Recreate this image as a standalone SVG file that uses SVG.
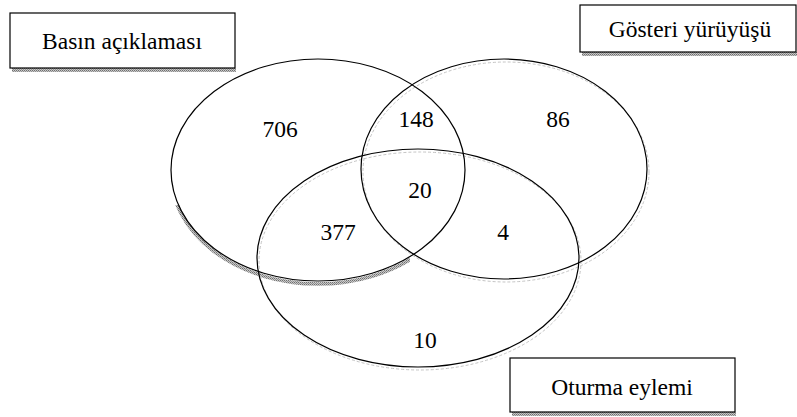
<svg xmlns="http://www.w3.org/2000/svg" width="797" height="417" viewBox="0 0 797 417">
<defs>
<pattern id="dots" width="2" height="2" patternUnits="userSpaceOnUse">
<rect width="2" height="2" fill="#c8c8c8"/>
<rect width="1" height="1" fill="#707070"/>
<rect x="1" y="1" width="1" height="1" fill="#909090"/>
</pattern>
<clipPath id="c1"><rect x="160" y="205" width="250" height="100"/></clipPath>
</defs>
<style>
.t{font-family:'Liberation Serif','Times New Roman',serif;font-size:23.5px;fill:#000;text-anchor:middle}
.set{fill:none;stroke:#000;stroke-width:1.2}
.sh{fill:none;stroke:#c4c4c4;stroke-width:1;stroke-dasharray:3 2}
.sh1{fill:none;stroke:url(#dots);stroke-width:3.5}
.box{fill:#fff;stroke:#000;stroke-width:1.2}
.bsh{fill:url(#dots)}
</style>
<rect width="797" height="417" fill="#fff"/>
<g id="shadows">
<ellipse class="sh1" cx="318" cy="173" rx="147" ry="111" clip-path="url(#c1)"/>
<ellipse class="sh" cx="506" cy="172" rx="143" ry="110"/>
<ellipse class="sh" cx="420" cy="261" rx="161" ry="109"/>
</g>
<g id="set-basin">
<ellipse class="set" cx="318" cy="170" rx="147" ry="111"/>
</g>
<g id="set-gosteri">
<ellipse class="set" cx="504" cy="169" rx="143" ry="110"/>
</g>
<g id="set-oturma">
<ellipse class="set" cx="418" cy="258" rx="161" ry="109"/>
</g>
<g id="counts">
<text class="t" x="280" y="137">706</text>
<text class="t" x="416" y="127">148</text>
<text class="t" x="558" y="127">86</text>
<text class="t" x="420" y="198">20</text>
<text class="t" x="338" y="240">377</text>
<text class="t" x="503" y="240">4</text>
<text class="t" x="425" y="348">10</text>
</g>
<g id="label-basin">
<rect class="bsh" x="12" y="68" width="224" height="4"/>
<rect class="box" x="10" y="13" width="225" height="55"/>
<text class="t" x="122" y="49">Basın açıklaması</text>
</g>
<g id="label-gosteri">
<rect class="bsh" x="582" y="52" width="215" height="4"/>
<rect class="box" x="580" y="5" width="216" height="47"/>
<text class="t" x="690" y="37">Gösteri yürüyüşü</text>
</g>
<g id="label-oturma">
<rect class="bsh" x="512" y="412" width="224" height="4"/>
<rect class="box" x="510" y="358" width="225" height="54"/>
<text class="t" x="622" y="395">Oturma eylemi</text>
</g>
</svg>
